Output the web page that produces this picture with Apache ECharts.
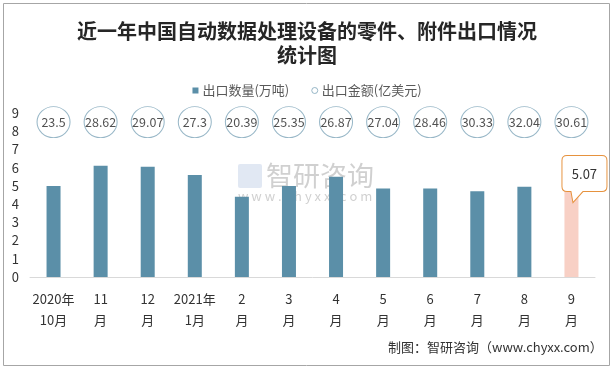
<!DOCTYPE html>
<html>
<head>
<meta charset="utf-8">
<script src="https://cdn.jsdelivr.net/npm/echarts@6/dist/echarts.min.js"></script>
<style>html,body{margin:0;padding:0;background:#fff}#c{width:614px;height:369px}</style>
</head>
<body>
<div id="c"></div>
<script>
const categories = ['2020年\n10月','11\n月','12\n月','2021年\n1月','2\n月','3\n月','4\n月','5\n月','6\n月','7\n月','8\n月','9\n月'];
const quantity = [5.0, 6.1, 6.05, 5.6, 4.4, 5.0, 5.5, 4.85, 4.85, 4.7, 4.95, 5.07];
const amount = [23.5, 28.62, 29.07, 27.3, 20.39, 25.35, 26.87, 27.04, 28.46, 30.33, 32.04, 30.61];
const yTicks = [0,1,2,3,4,5,6,7,8,9];
const circleRow = 8.5;

const FONT = '"Noto Sans CJK SC", "Microsoft YaHei", sans-serif';
const chart = echarts.init(document.getElementById('c'));
const last = quantity.length - 1;
const calloutPath = 'path://M5,0 H40 Q45,0 45,5 V31 Q45,36 40,36 H21 L11,47 L9,36 H5 Q0,36 0,31 V5 Q0,0 5,0 Z';

chart.setOption({
  backgroundColor: '#fff',
  animation: false,
  textStyle: { fontFamily: FONT },
  title: {
    text: '近一年中国自动数据处理设备的零件、附件出口情况\n统计图',
    left: 'center',
    top: 14,
    textStyle: { fontSize: 20, fontWeight: 'bold', color: '#262626', lineHeight: 24, fontFamily: FONT }
  },
  legend: {
    top: 79,
    left: 'center',
    itemWidth: 6,
    itemHeight: 6,
    itemGap: 22,
    textStyle: { fontSize: 13, color: '#595959', padding: [0, 0, 0, -1] },
    data: [
      { name: '出口数量(万吨)', icon: 'rect' },
      { name: '出口金额(亿美元)', icon: 'circle', itemStyle: { color: '#fff', borderColor: '#7ea5b9', borderWidth: 1 } }
    ]
  },
  grid: { left: 30, right: 19, top: 113, bottom: 92 },
  xAxis: {
    type: 'category',
    data: categories,
    axisLine: { lineStyle: { color: '#d9d9d9' } },
    axisTick: { show: false },
    axisLabel: { fontSize: 13, color: '#333', lineHeight: 21, margin: 12, interval: 0 }
  },
  yAxis: {
    type: 'value',
    min: 0, max: 9, interval: 1,
    axisLine: { show: false },
    axisTick: { show: false },
    splitLine: { show: false },
    axisLabel: { fontSize: 13, color: '#333', margin: 11, formatter: v => yTicks.includes(v) ? String(v) : '' }
  },
  graphic: [
    { type: 'rect', shape: { x: 3.5, y: 3.5, width: 606, height: 362 }, style: { fill: 'none', stroke: '#a6a6a6', lineWidth: 1 }, z: -10, silent: true },
    { type: 'text', left: 266, top: 162, z: -5, silent: true, style: { text: '智研咨询', font: '27px ' + FONT, fill: 'rgba(150,150,150,0.45)' } },
    { type: 'text', left: 238, top: 190, z: -5, silent: true, style: { text: 'w w w . c h y x x . c o m', font: '13px ' + FONT, fill: 'rgba(150,150,150,0.45)' } },
    { type: 'rect', shape: { x: 238, y: 164, width: 24, height: 24, r: 2 }, z: -5, silent: true, style: { fill: 'rgba(170,190,220,0.35)' } },
    { type: 'text', left: 388, top: 341, style: { text: '制图：智研咨询（www.chyxx.com）', font: '13px ' + FONT, fill: '#333' } }
  ],
  series: [
    {
      name: '出口数量(万吨)',
      type: 'bar',
      barWidth: 14,
      itemStyle: { color: '#5b8fa8' },
      data: quantity.map((v, i) => i === last ? { value: v, itemStyle: { color: '#f8d0c5' } } : v),
      markPoint: {
        symbol: calloutPath,
        symbolSize: [45, 47],
        symbolOffset: [13, -5.5],
        itemStyle: { color: '#fff', borderColor: '#e6923e', borderWidth: 1 },
        label: { show: true, position: 'inside', offset: [0, -5.5], fontSize: 13, color: '#333', formatter: p => String(p.value) },
        data: [{ coord: [last, quantity[last]], value: quantity[last] }]
      }
    },
    {
      name: '出口金额(亿美元)',
      type: 'scatter',
      symbol: 'circle',
      symbolSize: [33, 31],
      itemStyle: { color: '#fff', borderColor: '#7ea5b9', borderWidth: 1 },
      label: { show: true, position: 'inside', fontSize: 12.5, color: '#262626', formatter: p => String(p.value[2]) },
      data: amount.map((v, i) => [i, circleRow, v]),
      z: 3
    }
  ]
});
</script>
</body>
</html>
